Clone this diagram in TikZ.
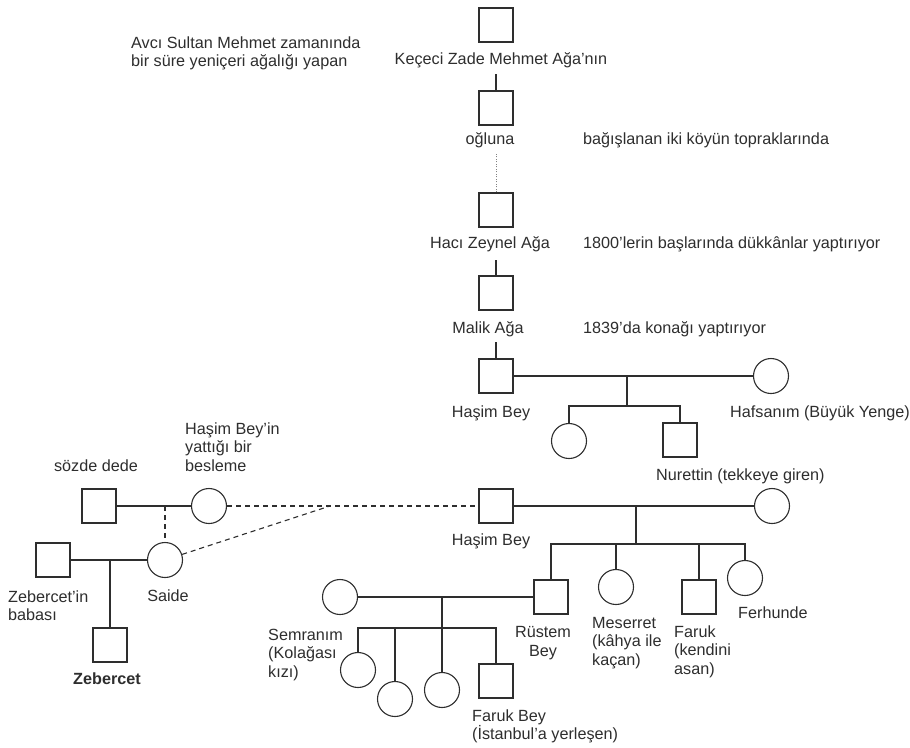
\documentclass[tikz,border=0pt]{standalone}
\usepackage{fontspec}
\setmainfont{Liberation Sans}
\usetikzlibrary{calc}
\definecolor{ink}{HTML}{2E2E2E}
\begin{document}
\begin{tikzpicture}[x=1pt,y=-1pt,
  every node/.style={font=\fontsize{16.2}{18.5}\selectfont, text=ink},
  sq/.style={draw=ink, line width=1.1pt, rectangle, minimum size=34pt, inner sep=0pt},
  ci/.style={draw=ink, line width=1.1pt, circle, minimum size=35pt, inner sep=0pt},
  lbl/.style={inner sep=0pt, anchor=base},
  lbll/.style={inner sep=0pt, anchor=base west, align=left},
  ln/.style={draw=ink, line width=1.1pt},
  dsh/.style={draw=ink, line width=1.1pt, dash pattern=on 5pt off 4pt},
  dotl/.style={draw=ink!60, line width=0.8pt, dash pattern=on 1pt off 1.5pt}]
\useasboundingbox (0,0) rectangle (910,747);
\fill[white] (0,0) rectangle (910,747);

% top lineage (multi-line labels are placed at the baseline of their last line)
\node[lbll] (avci) at (131,66.5) {Avcı Sultan Mehmet zamanında\\bir süre yeniçeri ağalığı yapan};
\node[sq] (k1) at (496,25) {};
\node[lbl] (lk1) at (501,64) {Keçeci Zade Mehmet Ağa'nın};
\node[sq] (k2) at (496,108) {};
\node[lbl] (lk2) at (490,144) {oğluna};
\node[lbll] (bag) at (583,144) {bağışlanan iki köyün topraklarında};
\node[sq] (k3) at (496,210) {};
\node[lbl] (lk3) at (490,248) {Hacı Zeynel Ağa};
\node[lbll] (n1800) at (583,248) {1800'lerin başlarında dükkânlar yaptırıyor};
\node[sq] (k4) at (496,293) {};
\node[lbl] (lk4) at (488,333) {Malik Ağa};
\node[lbll] (n1839) at (583,333) {1839'da konağı yaptırıyor};
\node[sq] (h1) at (496,376) {};
\node[lbl] (lh1) at (491,417) {Haşim Bey};
\node[ci] (hafsa) at (771,376) {};
\node[lbll] (lhafsa) at (730,417) {Hafsanım (Büyük Yenge)};
\node[ci] (c1) at (569,441) {};
\node[sq] (nur) at (680,440) {};
\node[lbll] (lnur) at (656,480) {Nurettin (tekkeye giren)};

\draw[ln] (k2.north) -- ($(k2.north |- lk1.base)+(0,10)$);
\draw[dotl] (k3.north) -- ($(k3.north |- lk2.base)+(0,9)$);
\draw[ln] (k4.north) -- ($(k4.north |- lk3.base)+(0,12)$);
\draw[ln] (h1.north) -- ($(h1.north |- lk4.base)+(0,9)$);
\draw[ln] (h1.east) -- (hafsa.west);
\coordinate (m1) at (627,376);
\coordinate (b1) at (627,406);
\draw[ln] (m1) -- (b1);
\draw[ln] (c1.north) |- (b1) -| (nur.north);

% second Hasim Bey family
\node[sq] (h2) at (496,506) {};
\node[lbl] (lh2) at (491,545) {Haşim Bey};
\node[ci] (w2) at (772,506) {};
\draw[ln] (h2.east) -- (w2.west);
\coordinate (m2) at (636,506);
\coordinate (b2) at (636,544);
\node[sq] (rus) at (551,597) {};
\node[ci] (mes) at (616,587) {};
\node[sq] (far) at (699,597) {};
\node[ci] (fer) at (745,578) {};
\draw[ln] (m2) -- (b2);
\draw[ln] (rus.north) |- (b2) -| (fer.north);
\draw[ln] (mes.north) -- (mes.north |- b2);
\draw[ln] (far.north) -- (far.north |- b2);
\node[lbl, align=center] (lrus) at (543,656) {Rüstem\\Bey};
\node[lbll] (lmes) at (592,665) {Meserret\\(kâhya ile\\kaçan)};
\node[lbll] (lfar) at (674,674) {Faruk\\(kendini\\asan)};
\node[lbll] (lfer) at (738,618) {Ferhunde};

% Rustem Bey family
\node[ci] (sem) at (340,597) {};
\draw[ln] (sem.east) -- (rus.west);
\coordinate (m3) at (442,597);
\coordinate (b3) at (442,628);
\node[ci] (g1) at (358,670) {};
\node[ci] (g2) at (395,699) {};
\node[ci] (g3) at (442,690) {};
\node[sq] (g4) at (496,681) {};
\draw[ln] (m3) -- (g3.north);
\draw[ln] (g1.north) |- (b3) -| (g4.north);
\draw[ln] (g2.north) -- (g2.north |- b3);
\node[lbll] (lsem) at (268,677) {Semranım\\(Kolağası\\kızı)};
\node[lbll] (lg4) at (472,739.5) {Faruk Bey\\(İstanbul'a yerleşen)};

% left family
\node[sq] (dede) at (99,506) {};
\node[lbl] (ldede) at (96,471) {sözde dede};
\node[ci] (bes) at (209,506) {};
\node[lbll] (lbes) at (185,471) {Haşim Bey'in\\yattığı bir\\besleme};
\draw[ln] (dede.east) -- (bes.west);
\coordinate (m4) at (165,506);
\node[ci] (sai) at (165,560) {};
\draw[dsh] (m4) -- (sai.north);
\node[lbl] (lsai) at (168,601) {Saide};
\node[sq] (bab) at (53,560) {};
\node[lbll] (lbab) at (8,620.5) {Zebercet'in\\babası};
\draw[ln] (bab.east) -- (sai.west);
\coordinate (m5) at (110,560);
\node[sq] (zeb) at (110,645) {};
\draw[ln] (m5) -- (zeb.north);
\node[lbl, font=\fontsize{16.2}{18.5}\selectfont\bfseries] (lzeb) at (107,684) {Zebercet};
\draw[dsh] (bes.east) -- (h2.west);
\coordinate (j) at (330,506);
\draw[dsh] (sai) -- (j);
\end{tikzpicture}
\end{document}
